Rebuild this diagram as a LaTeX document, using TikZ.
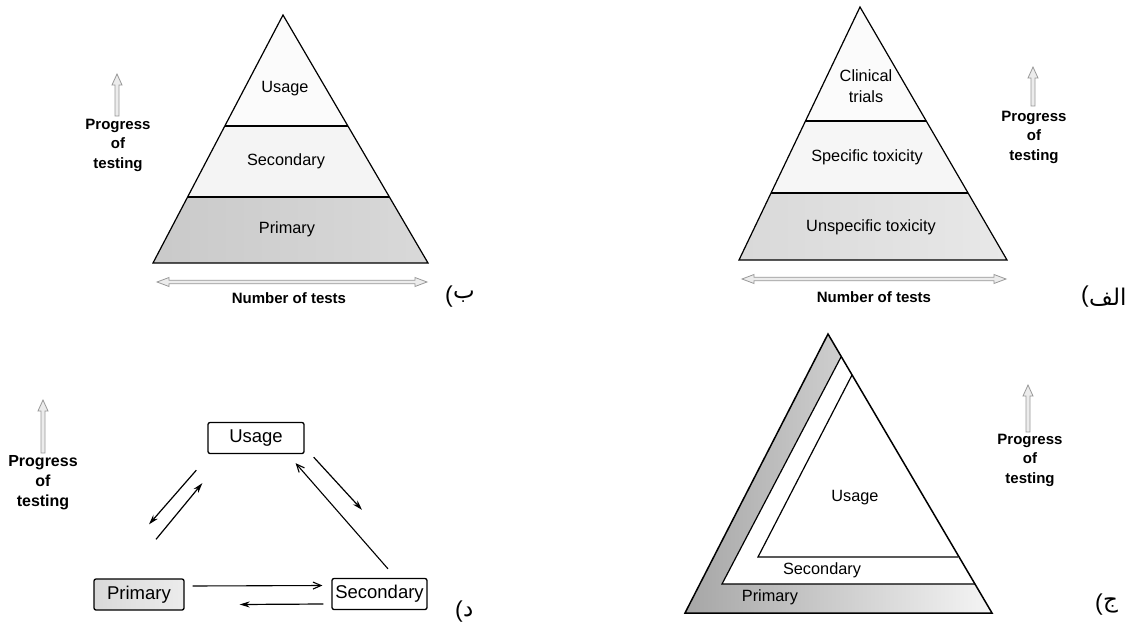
\documentclass[tikz,border=0pt]{standalone}
\usepackage{fontspec}
\setmainfont{Liberation Sans}
\newfontfamily\arabicfont[Script=Arabic]{DejaVu Sans}
\TeXXeTstate=1
\usetikzlibrary{arrows.meta,calc}
\tikzset{
  lbl/.style={font=\fontsize{16.3}{20.5}\selectfont, inner sep=0pt, align=center},
  boldlbl/.style={font=\bfseries\fontsize{15}{19.5}\selectfont, inner sep=0pt, align=center},
  arlbl/.style={font=\arabicfont\fontsize{23}{26}\selectfont, inner sep=0pt, anchor=west},
  parlbl/.style={font=\fontsize{23}{26}\selectfont, inner sep=0pt, anchor=east},
  triline/.style={draw=black, line width=1.2pt, line join=miter},
  boxnode/.style={draw=black, line width=1.3pt, rounded corners=2pt, inner sep=0pt,
    minimum height=31pt, font=\fontsize{18.5}{20}\selectfont},
  solidarr/.style={line width=1.2pt, -{Stealth[length=10pt,width=6pt]}},
  openarr/.style={line width=1.1pt, -{Straight Barb[length=8pt,width=7pt]}},
  hollow/.style={draw=gray!80, fill=gray!15, line width=0.8pt, line join=miter},
  pics/uparr/.style={code={
    \path[hollow] (-2,0) -- (-2,-#1+11) -- (-5,-#1+11) -- (0,-#1)
      -- (5,-#1+11) -- (2,-#1+11) -- (2,0) -- cycle;}},
  pics/lrarr/.style={code={
    \path[hollow] (0,0) -- (12,-4.5) -- (12,-1.8) -- (#1-12,-1.8) -- (#1-12,-4.5)
      -- (#1,0) -- (#1-12,4.5) -- (#1-12,1.8) -- (12,1.8) -- (12,4.5) -- cycle;}}
}
\begin{document}
\begin{tikzpicture}[x=1pt,y=-1pt]
\useasboundingbox[fill=white] (0,0) rectangle (1133,632);

% ---------------- Panel b (top left) ----------------
\coordinate (bA) at (283,15);
\coordinate (bL) at (153,263);
\coordinate (bR) at (428,263);
\coordinate (b1l) at ($(bA)!0.4476!(bL)$);
\coordinate (b1r) at ($(bA)!0.4476!(bR)$);
\coordinate (b2l) at ($(bA)!0.734!(bL)$);
\coordinate (b2r) at ($(bA)!0.734!(bR)$);
\fill[gray!3] (bA) -- (b1l) -- (b1r) -- cycle;
\fill[gray!9] (b1l) -- (b2l) -- (b2r) -- (b1r) -- cycle;
\shade[left color=gray!42, right color=gray!30] (b2l) -- (bL) -- (bR) -- (b2r) -- cycle;
\draw[triline] (bA) -- (bL) -- (bR) -- cycle;
\draw[triline] (b1l) -- (b1r);
\draw[triline] (b2l) -- (b2r);
\node[lbl] (bUsage) at (285,89) {Usage};
\node[lbl] (bSec) at (286,161) {Secondary};
\node[lbl] (bPri) at (287,229) {Primary};
\pic at (157,282) {lrarr=270};
\node[boldlbl] (bNum) at (289,298) {Number of tests};
\pic at (117,116) {uparr=42};
\node[boldlbl] (bProg) at (118,145) {Progress\\of\\testing};
\node[arlbl] (bTag) at (453,297) {\beginR ب\endR};
\node[parlbl] (bPar) at (bTag.west) {(};

% ---------------- Panel alef (top right) ----------------
\coordinate (aA) at (860,7);
\coordinate (aL) at (739,260);
\coordinate (aR) at (1007,260);
\coordinate (a1l) at ($(aA)!0.4506!(aL)$);
\coordinate (a1r) at ($(aA)!0.4506!(aR)$);
\coordinate (a2l) at ($(aA)!0.735!(aL)$);
\coordinate (a2r) at ($(aA)!0.735!(aR)$);
\fill[gray!3] (aA) -- (a1l) -- (a1r) -- cycle;
\fill[gray!7] (a1l) -- (a2l) -- (a2r) -- (a1r) -- cycle;
\shade[left color=gray!30, right color=gray!18] (a2l) -- (aL) -- (aR) -- (a2r) -- cycle;
\draw[triline] (aA) -- (aL) -- (aR) -- cycle;
\draw[triline] (a1l) -- (a1r);
\draw[triline] (a2l) -- (a2r);
\node[lbl] (aClin) at (866,86) {Clinical\\trials};
\node[lbl] (aSpec) at (867,157) {Specific toxicity};
\node[lbl] (aUns) at (871,227) {Unspecific toxicity};
\pic at (742,279) {lrarr=264};
\node[boldlbl] (aNum) at (874,297) {Number of tests};
\pic at (1033,106) {uparr=39};
\node[boldlbl] (aProg) at (1034,137) {Progress\\of\\testing};
\node[arlbl] (aTag) at (1089,297) {\beginR الف\endR};
\node[parlbl] (aPar) at (aTag.west) {(};

% ---------------- Panel jim (bottom right) ----------------
\coordinate (cA) at (828,334);
\coordinate (cL) at (685,613);
\coordinate (cR) at (992,613);
\coordinate (sA) at (841,357);
\coordinate (sL) at (722,584);
\coordinate (sR) at (975,584);
\coordinate (uA) at (852,375);
\coordinate (uL) at (758,557);
\coordinate (uR) at (958,557);
\shade[left color=gray!70, right color=gray!8] (cA) -- (cL) -- (cR) -- cycle;
\fill[white] (sA) -- (sL) -- (sR) -- cycle;
\draw[triline, line width=1.5pt] (cA) -- (cL) -- (cR) -- cycle;
\draw[triline] (sA) -- (sL) -- (sR);
\draw[triline] (uA) -- (uL) -- (uR);
\node[lbl] (cUsage) at (855,498) {Usage};
\node[lbl] (cSec) at (822,570) {Secondary};
\node[lbl] (cPri) at (770,597) {Primary};
\pic at (1028,432) {uparr=47};
\node[boldlbl] (cProg) at (1030,460) {Progress\\of\\testing};
\node[arlbl] (cTag) at (1103,605) {\beginR ج\endR};
\node[parlbl] (cPar) at (cTag.west) {(};

% ---------------- Panel dal (bottom left) ----------------
\node[boxnode, minimum width=96pt, fill=white] (u) at (256,438) {Usage};
\node[boxnode, minimum width=90pt, left color=gray!30, right color=gray!15] (p) at (139,594.5) {Primary};
\node[boxnode, minimum width=95pt, fill=white] (s) at (379.5,594) {Secondary};
\draw[openarr] ([yshift=8.5pt]p.east) ++(8,0) -- ([yshift=8.5pt,xshift=-9pt]s.west);
\draw[solidarr] ([yshift=-10pt,xshift=-8pt]s.west) -- ([yshift=-10pt,xshift=55pt]p.east);
\draw[solidarr] ($(u.south west)+(-11,16)$) -- ($(p.north)+(10,-54)$);
\draw[solidarr] ($(p.north)+(17,-39)$) -- ($(u.south west)+(-5,29)$);
\draw[solidarr] ($(u.south east)+(9,3)$) -- ($(s.north)+(-17.5,-68)$);
\draw[openarr] ($(s.north)+(8.5,-9)$) -- ($(u.south east)+(-9,9)$);
\pic at (43,453) {uparr=53};
\node[boldlbl, font=\bfseries\fontsize{16}{20}\selectfont] (dProg) at (43,483) {Progress\\of\\testing};
\node[arlbl] (dTag) at (463,612) {\beginR د\endR};
\node[parlbl] (dPar) at (dTag.west) {(};
\end{tikzpicture}
\end{document}
